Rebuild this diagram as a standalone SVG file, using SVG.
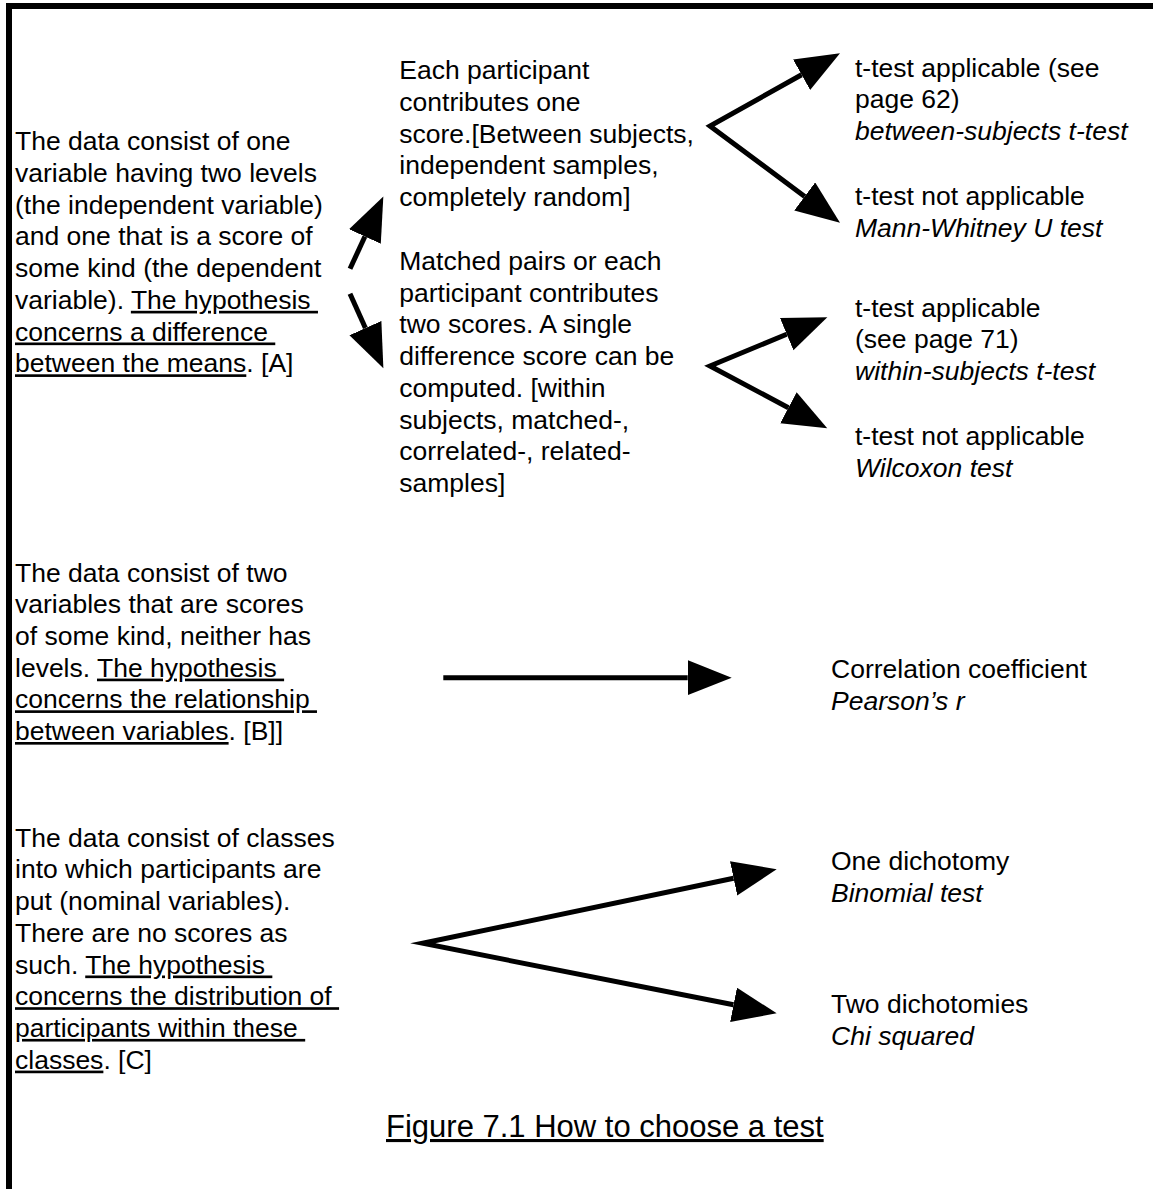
<svg xmlns="http://www.w3.org/2000/svg" width="1153" height="1189" viewBox="0 0 1153 1189">
<style>
text{font-family:"Liberation Sans",Arial,sans-serif;font-size:26.5px;fill:#000}
.i{font-style:italic}
.u{text-decoration:underline}
.cap{font-size:31px}
.con{fill:none;stroke:#000;stroke-width:5;stroke-miterlimit:12;stroke-linejoin:miter}
</style>
<defs>
<marker id="ah" markerUnits="userSpaceOnUse" markerWidth="46" markerHeight="38" viewBox="0 0 46 38" refX="0" refY="17.5" orient="auto-start-reverse">
<path d="M0,0 L44,17.5 L0,35 z" fill="#000"/>
</marker>
</defs>
<rect width="1153" height="1189" fill="#fff"/>
<g id="frame" stroke="#000" stroke-width="6">
<line x1="6" y1="6" x2="1153" y2="6"/>
<line x1="9" y1="3" x2="9" y2="1189"/>
</g>
<g id="connectors">
<line class="con" x1="350" y1="268.8" x2="364.9" y2="236.5" marker-end="url(#ah)"/>
<line class="con" x1="350" y1="293.7" x2="365.4" y2="328.1" marker-end="url(#ah)"/>
<path class="con" d="M801.6,74.8 L710,126 L804.7,196.4" marker-start="url(#ah)" marker-end="url(#ah)"/>
<path class="con" d="M786.7,334.2 L710,366 L788.4,407.7" marker-start="url(#ah)" marker-end="url(#ah)"/>
<line class="con" x1="443.3" y1="677.7" x2="687.7" y2="677.7" marker-end="url(#ah)"/>
<path class="con" d="M733.6,878.3 L422.7,943.3 L733.5,1004.8" marker-start="url(#ah)" marker-end="url(#ah)"/>
</g>
<g id="nodeA">
<text x="15" y="150">The data consist of one</text>
<text x="15" y="181.8">variable having two levels</text>
<text x="15" y="213.5">(the independent variable)</text>
<text x="15" y="245.3">and one that is a score of</text>
<text x="15" y="277">some kind (the dependent</text>
<text x="15" y="308.8" xml:space="preserve">variable). <tspan class="u">The hypothesis </tspan></text>
<text x="15" y="340.5" xml:space="preserve"><tspan class="u">concerns a difference </tspan></text>
<text x="15" y="372.3" xml:space="preserve"><tspan class="u">between the means</tspan>. [A]</text>
</g>
<g id="nodeBetween">
<text x="399.3" y="79.3">Each participant</text>
<text x="399.3" y="110.9">contributes one</text>
<text x="399.3" y="142.5">score.[Between subjects,</text>
<text x="399.3" y="174.1">independent samples,</text>
<text x="399.3" y="205.7">completely random]</text>
</g>
<g id="nodeWithin">
<text x="399.3" y="270">Matched pairs or each</text>
<text x="399.3" y="301.7">participant contributes</text>
<text x="399.3" y="333.4">two scores. A single</text>
<text x="399.3" y="365.1">difference score can be</text>
<text x="399.3" y="396.8">computed. [within</text>
<text x="399.3" y="428.5">subjects, matched-,</text>
<text x="399.3" y="460.2">correlated-, related-</text>
<text x="399.3" y="491.9">samples]</text>
</g>
<g id="nodeBetweenT">
<text x="855" y="76.7">t-test applicable (see</text>
<text x="855" y="108.3">page 62)</text>
<text x="855" y="140" class="i">between-subjects t-test</text>
</g>
<g id="nodeMannWhitney">
<text x="855" y="205">t-test not applicable</text>
<text x="855" y="236.7" class="i">Mann-Whitney U test</text>
</g>
<g id="nodeWithinT">
<text x="855" y="316.7">t-test applicable</text>
<text x="855" y="348.3">(see page 71)</text>
<text x="855" y="380" class="i">within-subjects t-test</text>
</g>
<g id="nodeWilcoxon">
<text x="855" y="445">t-test not applicable</text>
<text x="855" y="476.7" class="i">Wilcoxon test</text>
</g>
<g id="nodeB">
<text x="15" y="581.5">The data consist of two</text>
<text x="15" y="613.2">variables that are scores</text>
<text x="15" y="644.9">of some kind, neither has</text>
<text x="15" y="676.6" xml:space="preserve">levels. <tspan class="u">The hypothesis </tspan></text>
<text x="15" y="708.3" xml:space="preserve"><tspan class="u">concerns the relationship </tspan></text>
<text x="15" y="740" xml:space="preserve"><tspan class="u">between variables</tspan>. [B]]</text>
</g>
<g id="nodeCorrelation">
<text x="831" y="678.3">Correlation coefficient</text>
<text x="831" y="710" class="i">Pearson’s r</text>
</g>
<g id="nodeC">
<text x="15" y="846.7">The data consist of classes</text>
<text x="15" y="878.4">into which participants are</text>
<text x="15" y="910.1">put (nominal variables).</text>
<text x="15" y="941.8">There are no scores as</text>
<text x="15" y="973.5" xml:space="preserve">such. <tspan class="u">The hypothesis </tspan></text>
<text x="15" y="1005.2" xml:space="preserve"><tspan class="u">concerns the distribution of </tspan></text>
<text x="15" y="1036.9" xml:space="preserve"><tspan class="u">participants within these </tspan></text>
<text x="15" y="1068.6" xml:space="preserve"><tspan class="u">classes</tspan>. [C]</text>
</g>
<g id="nodeBinomial">
<text x="831" y="870">One dichotomy</text>
<text x="831" y="901.7" class="i">Binomial test</text>
</g>
<g id="nodeChi">
<text x="831" y="1012.7">Two dichotomies</text>
<text x="831" y="1045" class="i">Chi squared</text>
</g>
<g id="caption">
<text x="386" y="1137" class="cap u">Figure 7.1 How to choose a test</text>
</g>
</svg>
